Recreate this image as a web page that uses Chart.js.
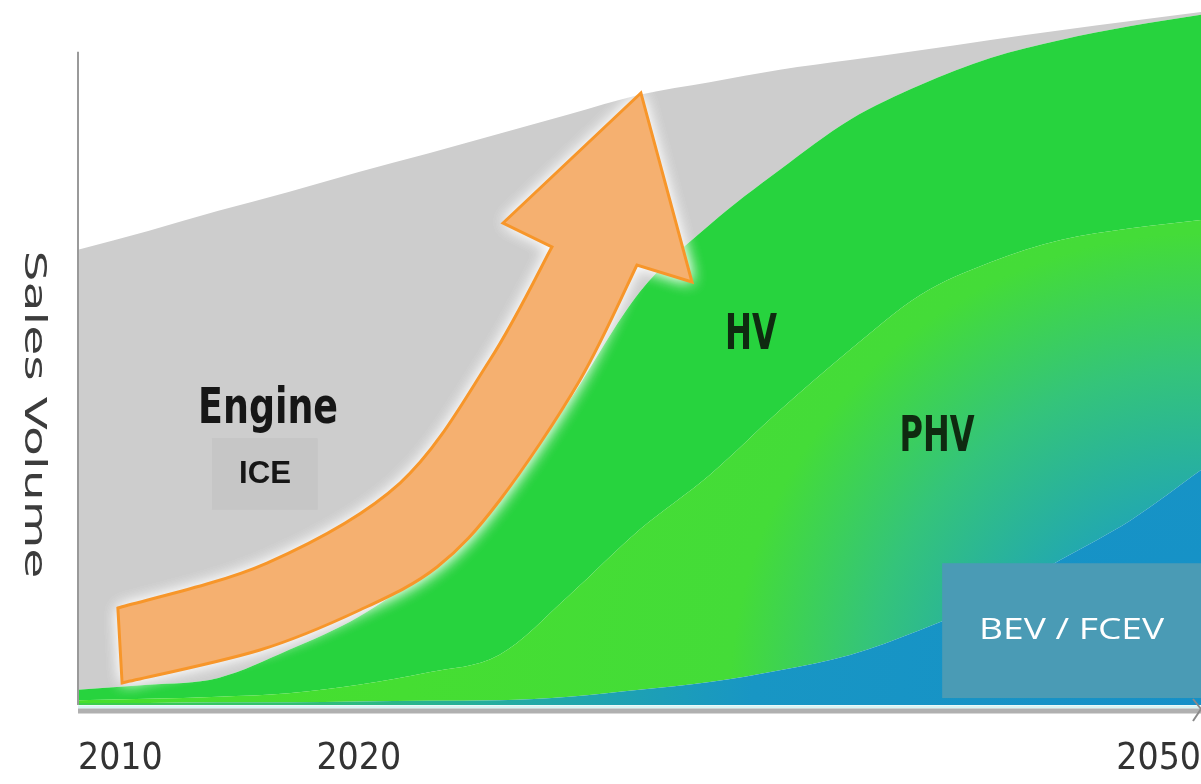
<!DOCTYPE html>
<html>
<head>
<meta charset="utf-8">
<script src="https://cdn.jsdelivr.net/npm/chart.js@4.4.1/dist/chart.umd.min.js"></script>
<style>
  html, body { margin: 0; padding: 0; background: #fff; }
  #wrap { width: 1201px; height: 784px; }
</style>
</head>
<body>
<div id="wrap"><canvas id="salesChart" width="1201" height="784"></canvas></div>
<script>
// years on the x axis (schematic), every 2.5 years
const years = [2010, 2012.5, 2015, 2017.5, 2020, 2022.5, 2025, 2027.5, 2030, 2032.5, 2035, 2037.5, 2040, 2042.5, 2045, 2047.5, 2050];
const xTickYears = [2010, 2020, 2050];

// sales volume per powertrain (stacked, bottom to top)
const bevValues = [0.3, 0.3, 0.4, 0.4, 0.5, 0.6, 0.7, 1.2, 2.2, 3.3, 5.0, 7.2, 10.8, 15.1, 20.9, 26.6, 33.8];
const phvValues = [0.4, 0.6, 0.8, 1.3, 2.4, 4.1, 6.5, 14.6, 23.0, 29.8, 37.4, 43.9, 48.2, 48.6, 46.0, 42.0, 36.0];
const hvValues  = [1.5, 2.0, 2.7, 6.2, 9.8, 15.0, 22.0, 28.0, 34.2, 36.0, 34.6, 33.1, 30.2, 29.4, 28.8, 29.1, 29.5];
const iceValues = [63.3, 65.3, 67.2, 65.9, 64.0, 59.7, 53.0, 41.2, 28.4, 20.5, 14.4, 8.6, 5.0, 2.6, 1.4, 0.7, 0.4];

const seriesNames = ['BEV / FCEV', 'PHV', 'HV', 'ICE'];

const NARROW = '"Liberation Sans Narrow", "DejaVu Sans Condensed", "Roboto Condensed", "Liberation Sans", sans-serif';

function toPoints(values) {
    return values.map((v, i) => ({ x: years[i], y: v }));
}

function radialFill(stops) {
    return function(context) {
        const chart = context.chart;
        const area = chart.chartArea;
        if (!area) return stops[stops.length - 1][1];
        const g = chart.ctx.createRadialGradient(area.right, area.bottom, 0, area.right, area.bottom, area.width);
        stops.forEach(s => g.addColorStop(s[0], s[1]));
        return g;
    };
}

// smooth curve through points (catmull-rom), path already at pts[0]
function curveThrough(ctx, pts) {
    for (let i = 0; i < pts.length - 1; i++) {
        const p0 = pts[i - 1] || pts[i];
        const p1 = pts[i];
        const p2 = pts[i + 1];
        const p3 = pts[i + 2] || p2;
        ctx.bezierCurveTo(
            p1[0] + (p2[0] - p0[0]) / 6, p1[1] + (p2[1] - p0[1]) / 6,
            p2[0] - (p3[0] - p1[0]) / 6, p2[1] - (p3[1] - p1[1]) / 6,
            p2[0], p2[1]
        );
    }
}

function fitText(ctx, text, cx, cy, font, width, color) {
    ctx.save();
    ctx.font = font;
    ctx.fillStyle = color;
    ctx.textAlign = 'center';
    ctx.textBaseline = 'middle';
    const w = ctx.measureText(text).width;
    ctx.translate(cx, cy);
    ctx.scale(width / w, 1);
    ctx.fillText(text, 0, 0);
    ctx.restore();
}

const decorations = {
    id: 'decorations',
    afterDatasetsDraw(chart) {
        const ctx = chart.ctx;
        const area = chart.chartArea;
        const xs = chart.scales.x;
        const ys = chart.scales.y;
        const P = (yr, v) => [xs.getPixelForValue(yr), ys.getPixelForValue(v)];

        ctx.save();

        // y axis line
        ctx.strokeStyle = '#9a9a9a';
        ctx.lineWidth = 2;
        ctx.beginPath();
        ctx.moveTo(area.left, ys.getPixelForValue(94));
        ctx.lineTo(area.left, area.bottom);
        ctx.stroke();

        // x axis: light line + thick grey base
        ctx.strokeStyle = '#d8f4f4';
        ctx.lineWidth = 3;
        ctx.beginPath();
        ctx.moveTo(area.left, area.bottom + 2);
        ctx.lineTo(area.right, area.bottom + 2);
        ctx.stroke();
        ctx.strokeStyle = '#b0b0b0';
        ctx.lineWidth = 5;
        ctx.beginPath();
        ctx.moveTo(area.left, area.bottom + 6);
        ctx.lineTo(area.right, area.bottom + 6);
        ctx.stroke();
        ctx.strokeStyle = '#8a8a8a';
        ctx.lineWidth = 2;
        ctx.beginPath();
        ctx.moveTo(area.right - 8, area.bottom - 6);
        ctx.lineTo(area.right, area.bottom + 4);
        ctx.lineTo(area.right - 8, area.bottom + 16);
        ctx.stroke();

        // orange growth arrow
        const tailTop = P(2011.42, 13.96);
        const tailBottom = P(2011.57, 3.17);
        const lower = [[2011.57, 3.17], [2016.48, 7.91], [2020.04, 13.67], [2022.79, 19.86], [2025.03, 29.5], [2027.88, 46.76], [2029.91, 63.31]].map(p => P(p[0], p[1]));
        const rightBarb = P(2031.87, 60.86);
        const tip = P(2030.05, 88.06);
        const leftBarb = P(2025.14, 69.35);
        const upper = [[2026.88, 65.9], [2024.67, 49.64], [2021.47, 31.94], [2016.73, 20.43], [2011.42, 13.96]].map(p => P(p[0], p[1]));

        ctx.beginPath();
        ctx.moveTo(tailTop[0], tailTop[1]);
        ctx.lineTo(tailBottom[0], tailBottom[1]);
        curveThrough(ctx, lower);
        ctx.lineTo(rightBarb[0], rightBarb[1]);
        ctx.lineTo(tip[0], tip[1]);
        ctx.lineTo(leftBarb[0], leftBarb[1]);
        ctx.lineTo(upper[0][0], upper[0][1]);
        curveThrough(ctx, upper);
        ctx.closePath();
        ctx.save();
        ctx.shadowColor = 'rgba(255,255,255,0.95)';
        ctx.shadowBlur = 16;
        ctx.fillStyle = '#f5b070';
        ctx.fill();
        ctx.fill();
        ctx.restore();
        ctx.strokeStyle = '#f7962a';
        ctx.lineWidth = 3;
        ctx.lineJoin = 'miter';
        ctx.stroke();

        // ICE box
        const boxTL = P(2014.77, 38.4);
        const boxBR = P(2018.54, 28.1);
        ctx.fillStyle = '#c6c6c6';
        ctx.fillRect(boxTL[0], boxTL[1], boxBR[0] - boxTL[0], boxBR[1] - boxTL[1]);

        const engine = P(2016.77, 42.4);
        fitText(ctx, 'Engine', engine[0], engine[1], 'bold 50px ' + NARROW, 140, '#161616');
        const ice = P(2016.66, 33.2);
        fitText(ctx, 'ICE', ice[0], ice[1], 'bold 32px "Liberation Sans", Arial, sans-serif', 52, '#161616');
        const hv = P(2033.97, 53.1);
        fitText(ctx, 'HV', hv[0], hv[1], 'bold 50px ' + NARROW, 52, '#0f2a10');
        const phv = P(2040.6, 38.4);
        fitText(ctx, 'PHV', phv[0], phv[1], 'bold 50px ' + NARROW, 75, '#0f2a10');

        // BEV / FCEV box
        const bevTL = P(2040.78, 20.4);
        const bevBottom = ys.getPixelForValue(1.0);
        ctx.fillStyle = '#4a9bb5';
        ctx.fillRect(bevTL[0], bevTL[1], area.right - bevTL[0], bevBottom - bevTL[1]);
        fitText(ctx, seriesNames[0], (bevTL[0] + area.right) / 2, (bevTL[1] + bevBottom) / 2, '30px "Open Sans", "Noto Sans", sans-serif', 185, '#ffffff');

        // y axis title, reading top to bottom
        ctx.save();
        ctx.translate(33, (ys.getPixelForValue(65) + ys.getPixelForValue(18.6)) / 2);
        ctx.rotate(Math.PI / 2);
        ctx.font = '31px "DejaVu Sans", sans-serif';
        ctx.fillStyle = '#3c3c3c';
        ctx.textAlign = 'center';
        ctx.textBaseline = 'middle';
        const label = 'Sales Volume';
        const w = ctx.measureText(label).width;
        ctx.scale(328 / w, 1);
        ctx.fillText(label, 0, 0);
        ctx.restore();

        ctx.restore();
    }
};

new Chart(document.getElementById('salesChart'), {
    type: 'line',
    data: {
        datasets: [
            {
                label: seriesNames[0],
                data: toPoints(bevValues),
                fill: 'origin',
                backgroundColor: radialFill([[0, '#1590c8'], [0.4, '#1896c4'], [0.6, '#22aaa6'], [0.85, '#33c46a'], [1, '#3cd048']])
            },
            {
                label: seriesNames[1],
                data: toPoints(phvValues),
                fill: '-1',
                backgroundColor: radialFill([[0, '#1794c4'], [0.17, '#22a8b0'], [0.3, '#34c47a'], [0.42, '#44dc38'], [1, '#46e02c']])
            },
            {
                label: seriesNames[2],
                data: toPoints(hvValues),
                fill: '-1',
                backgroundColor: '#27d33e'
            },
            {
                label: seriesNames[3],
                data: toPoints(iceValues),
                fill: '-1',
                backgroundColor: '#cdcdcd'
            }
        ]
    },
    options: {
        responsive: false,
        animation: false,
        layout: {
            padding: { left: 78, right: 0, top: 10, bottom: 0 }
        },
        elements: {
            point: { radius: 0 },
            line: { borderWidth: 0, cubicInterpolationMode: 'monotone' }
        },
        plugins: {
            legend: { display: false },
            tooltip: { enabled: false }
        },
        scales: {
            x: {
                type: 'linear',
                min: 2010,
                max: 2050,
                grid: { display: false, drawTicks: false },
                border: { display: false },
                afterBuildTicks: function(scale) {
                    scale.ticks = xTickYears.map(v => ({ value: v }));
                },
                afterFit: function(scale) {
                    scale.height = 79;
                    scale.paddingLeft = 0;
                    scale.paddingRight = 0;
                },
                ticks: {
                    align: 'inner',
                    autoSkip: false,
                    maxRotation: 0,
                    padding: 36,
                    color: '#333333',
                    font: { family: NARROW, size: 37, lineHeight: 1.0 },
                    callback: function(value) {
                        return String(value);
                    }
                }
            },
            y: {
                display: false,
                stacked: true,
                min: 0,
                max: 100
            }
        }
    },
    plugins: [decorations]
});
</script>
</body>
</html>
